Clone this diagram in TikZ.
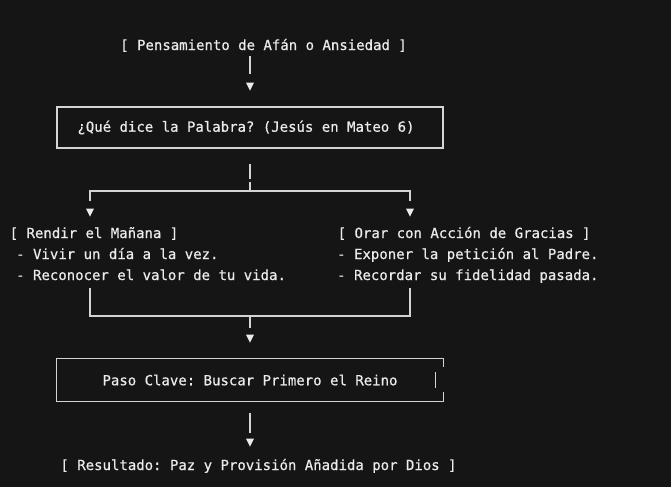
\documentclass[tikz,border=0pt]{standalone}
\usepackage{fontspec}
\setmonofont{DejaVu Sans Mono}[FakeBold=0.6]
\usetikzlibrary{shapes.geometric}
\definecolor{fondo}{HTML}{151515}
\definecolor{texto}{HTML}{EBEBEB}
\definecolor{trazo}{HTML}{D4D4D4}
\begin{document}
\begin{tikzpicture}[x=1pt, y=-1pt,
  txt/.style={text=texto, font=\ttfamily\fontsize{14}{16}\selectfont, inner sep=0pt},
  caja/.style={draw=trazo, line width=1.1pt, minimum width=386pt, minimum height=41pt},
  linea/.style={draw=trazo, line width=1.1pt},
  punta/.style={isosceles triangle, isosceles triangle stretches, shape border rotate=-90,
    fill=texto, minimum width=8pt, minimum height=8pt, inner sep=0pt}]
  \fill[fondo] (0,0) rectangle (671,487);
  \useasboundingbox (0,0) rectangle (671,487);
  \node[txt, anchor=base] (afan) at (263.5,50) {[ Pensamiento de Afán o Ansiedad ]};
  \node[punta] (p1) at (250,85) {};
  \node[txt, caja] (palabra) at (250,127.5) {¿Qué dice la Palabra? (Jesús en Mateo 6)\hspace*{8pt}};
  \node[punta] (pL) at (90,211) {};
  \node[punta] (pR) at (410,211) {};
  \node[txt, anchor=base west] (rendir) at (9.5,238) {[ Rendir el Mañana ]};
  \node[txt, anchor=base west] (diaL) at (16,259) {- Vivir un día a la vez.};
  \node[txt, anchor=base west] (vidaL) at (16,280) {- Reconocer el valor de tu vida.};
  \node[txt, anchor=base west] (orar) at (337.5,238) {[ Orar con Acción de Gracias ]};
  \node[txt, anchor=base west] (padre) at (337,259) {- Exponer la petición al Padre.};
  \node[txt, anchor=base west] (pasada) at (337,280) {- Recordar su fidelidad pasada.};
  \node[punta] (p3) at (250,337) {};
  \node[txt, minimum width=386pt, minimum height=42pt] (clave) at (250,380) {Paso Clave: Buscar Primero el Reino};
  \node[punta] (p4) at (250,441) {};
  \node[txt, anchor=base] (resultado) at (258.5,470) {[ Resultado: Paz y Provisión Añadida por Dios ]};
  \coordinate (bifurca) at (250,191);
  \coordinate (une) at (250,316);
  \draw[linea, shorten <=4pt, shorten >=8pt] (afan.south -| p1) -- (p1);
  \draw[linea, shorten <=15pt, dash pattern=on 15pt off 3pt] (palabra.south) -- (bifurca);
  \draw[linea, shorten <=7pt, shorten >=7pt] (pL.north) |- (bifurca) -| (pR.north);
  \draw[linea, shorten <=8pt, shorten >=8pt] (vidaL.base -| pL) |- (une) -| (pasada.base -| pR);
  \draw[linea, shorten >=6pt] (une) -- (p3);
  \draw[linea] ([yshift=-8pt]clave.north east) -- (clave.north east) -- (clave.north west)
    -- (clave.south west) -- (clave.south east) -- ([yshift=9pt]clave.south east);
  \draw[linea] ([xshift=-8pt,yshift=8pt]clave.east) -- ([xshift=-8pt,yshift=-8pt]clave.east);
  \draw[linea, shorten <=12pt, shorten >=5pt] (clave.south) -- (p4);
\end{tikzpicture}
\end{document}
